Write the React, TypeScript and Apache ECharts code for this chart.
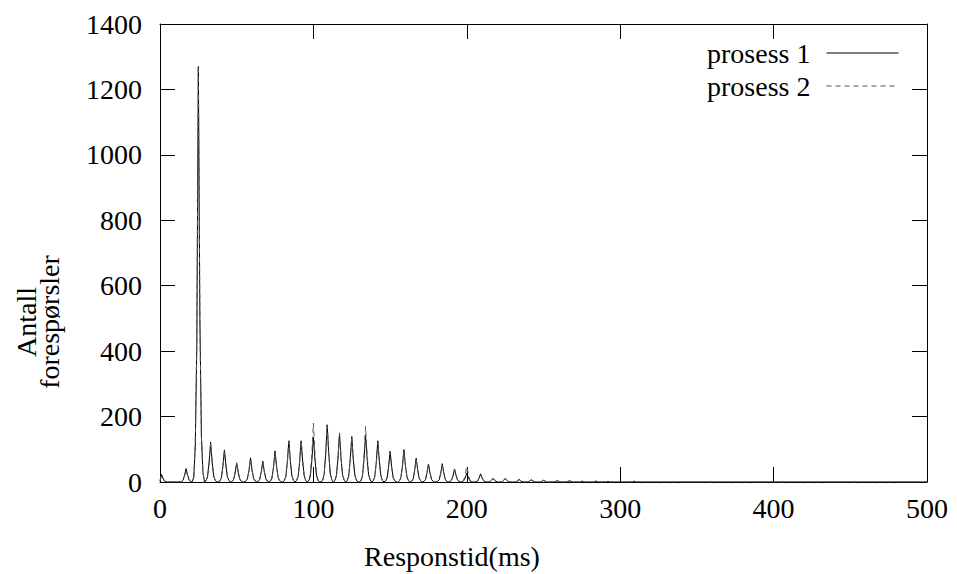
import React, { useEffect, useRef } from "react";
import * as echarts from "echarts";

const seriesNames = ["prosess 1", "prosess 2"];
const xTicks = { min: 0, max: 500, interval: 100 };
const yTicks = { min: 0, max: 1400, interval: 200 };
const xTitle = "Responstid(ms)";
const yTitle = "Antall\nforespørsler";

const prosess1: [number, number][] = [
  [0, 3], [1, 23], [2, 11], [3, 3], [4, 1], [5, 0],
  [13, 0], [14, 1], [15, 5], [16, 20], [17, 41], [18, 21], [19, 6], [20, 2], [21, 0],
  [22, 15], [23, 110], [24, 420], [25, 1270], [26, 500], [27, 140], [28, 30], [29, 0],
  [30, 4], [31, 16], [32, 59], [33, 122], [34, 61], [35, 18], [36, 5], [37, 0],
  [38, 0], [39, 3], [40, 13], [41, 47], [42, 98], [43, 49], [44, 15], [45, 4], [46, 0],
  [47, 2], [48, 8], [49, 28], [50, 58], [51, 29], [52, 9], [53, 2], [54, 0],
  [55, 0], [56, 2], [57, 10], [58, 36], [59, 74], [60, 37], [61, 11], [62, 3], [63, 0],
  [64, 2], [65, 8], [66, 31], [67, 64], [68, 32], [69, 10], [70, 3], [71, 0],
  [72, 3], [73, 12], [74, 46], [75, 95], [76, 48], [77, 14], [78, 4], [79, 0],
  [80, 0], [81, 4], [82, 16], [83, 60], [84, 126], [85, 63], [86, 19], [87, 5], [88, 0],
  [89, 4], [90, 16], [91, 60], [92, 126], [93, 63], [94, 19], [95, 5], [96, 0],
  [97, 4], [98, 18], [99, 66], [100, 137], [101, 69], [102, 21], [103, 5], [104, 0],
  [105, 0], [106, 5], [107, 23], [108, 84], [109, 175], [110, 88], [111, 26], [112, 7], [113, 0],
  [114, 4], [115, 19], [116, 71], [117, 148], [118, 74], [119, 22], [120, 6], [121, 0],
  [122, 4], [123, 18], [124, 67], [125, 139], [126, 70], [127, 21], [128, 6], [129, 0],
  [130, 0], [131, 4], [132, 19], [133, 69], [134, 144], [135, 72], [136, 22], [137, 6], [138, 0],
  [139, 4], [140, 16], [141, 60], [142, 126], [143, 63], [144, 19], [145, 5], [146, 0],
  [147, 3], [148, 12], [149, 45], [150, 94], [151, 47], [152, 14], [153, 4], [154, 0],
  [155, 0], [156, 3], [157, 13], [158, 48], [159, 99], [160, 50], [161, 15], [162, 4], [163, 0],
  [164, 2], [165, 9], [166, 35], [167, 73], [168, 37], [169, 11], [170, 3], [171, 0],
  [172, 2], [173, 7], [174, 26], [175, 55], [176, 28], [177, 8], [178, 2], [179, 0],
  [180, 0], [181, 2], [182, 7], [183, 27], [184, 56], [185, 28], [186, 8], [187, 2], [188, 0],
  [189, 1], [190, 5], [191, 19], [192, 40], [193, 20], [194, 6], [195, 2], [196, 0],
  [197, 1], [198, 4], [199, 13], [200, 27], [201, 14], [202, 4], [203, 1], [204, 0],
  [205, 0], [206, 1], [207, 3], [208, 12], [209, 25], [210, 13], [211, 4], [212, 1], [213, 0],
  [215, 0], [216, 5], [217, 11], [218, 6], [219, 2], [220, 0],
  [223, 0], [224, 5], [225, 11], [226, 6], [227, 2], [228, 0],
  [232, 0], [233, 4], [234, 8], [235, 4], [236, 1], [237, 0],
  [240, 0], [241, 3], [242, 7], [243, 4], [244, 1], [245, 0],
  [248, 0], [249, 2], [250, 5], [251, 3], [252, 0],
  [257, 0], [258, 2], [259, 4], [260, 2], [261, 0],
  [265, 0], [266, 2], [267, 4], [268, 2], [269, 0],
  [274, 0], [275, 3], [276, 1], [277, 0],
  [283, 0], [284, 3], [285, 1], [286, 0],
  [291, 0], [292, 2], [293, 0],
  [299, 0], [300, 2], [301, 0],
  [308, 0], [309, 3], [310, 0],
  [500, 0],
];

const prosess2: [number, number][] = [
  [0, 3], [1, 22], [2, 11], [3, 3], [4, 1], [5, 0],
  [13, 0], [14, 1], [15, 5], [16, 18], [17, 38], [18, 19], [19, 6], [20, 2], [21, 0],
  [22, 14], [23, 115], [24, 430], [25, 1272], [26, 490], [27, 135], [28, 28], [29, 0],
  [30, 4], [31, 15], [32, 57], [33, 118], [34, 59], [35, 18], [36, 5], [37, 0],
  [38, 0], [39, 3], [40, 12], [41, 46], [42, 95], [43, 48], [44, 14], [45, 4], [46, 0],
  [47, 2], [48, 8], [49, 29], [50, 60], [51, 30], [52, 9], [53, 2], [54, 0],
  [55, 0], [56, 2], [57, 9], [58, 34], [59, 70], [60, 35], [61, 11], [62, 3], [63, 0],
  [64, 2], [65, 8], [66, 30], [67, 62], [68, 31], [69, 9], [70, 2], [71, 0],
  [72, 3], [73, 12], [74, 44], [75, 92], [76, 46], [77, 14], [78, 4], [79, 0],
  [80, 0], [81, 4], [82, 16], [83, 60], [84, 124], [85, 62], [86, 19], [87, 5], [88, 0],
  [89, 4], [90, 17], [91, 61], [92, 128], [93, 64], [94, 19], [95, 5], [96, 0],
  [97, 5], [98, 23], [99, 86], [100, 180], [101, 90], [102, 27], [103, 7], [104, 0],
  [105, 0], [106, 5], [107, 22], [108, 83], [109, 172], [110, 86], [111, 26], [112, 7], [113, 0],
  [114, 5], [115, 20], [116, 72], [117, 150], [118, 75], [119, 23], [120, 6], [121, 0],
  [122, 4], [123, 18], [124, 67], [125, 140], [126, 70], [127, 21], [128, 6], [129, 0],
  [130, 0], [131, 5], [132, 22], [133, 82], [134, 170], [135, 85], [136, 26], [137, 7], [138, 0],
  [139, 4], [140, 16], [141, 59], [142, 122], [143, 61], [144, 18], [145, 5], [146, 0],
  [147, 3], [148, 12], [149, 44], [150, 92], [151, 46], [152, 14], [153, 4], [154, 0],
  [155, 0], [156, 3], [157, 12], [158, 46], [159, 95], [160, 48], [161, 14], [162, 4], [163, 0],
  [164, 2], [165, 9], [166, 34], [167, 70], [168, 35], [169, 11], [170, 3], [171, 0],
  [172, 2], [173, 7], [174, 27], [175, 56], [176, 28], [177, 8], [178, 2], [179, 0],
  [180, 0], [181, 2], [182, 7], [183, 25], [184, 52], [185, 26], [186, 8], [187, 2], [188, 0],
  [189, 1], [190, 5], [191, 18], [192, 38], [193, 19], [194, 6], [195, 2], [196, 0],
  [197, 1], [198, 6], [199, 23], [200, 48], [201, 24], [202, 7], [203, 2], [204, 0],
  [205, 0], [206, 1], [207, 3], [208, 11], [209, 22], [210, 11], [211, 3], [212, 1], [213, 0],
  [215, 0], [216, 6], [217, 12], [218, 6], [219, 2], [220, 0],
  [223, 0], [224, 5], [225, 10], [226, 5], [227, 2], [228, 0],
  [232, 0], [233, 3], [234, 7], [235, 4], [236, 1], [237, 0],
  [240, 0], [241, 3], [242, 6], [243, 3], [244, 1], [245, 0],
  [248, 0], [249, 2], [250, 5], [251, 3], [252, 0],
  [257, 0], [258, 2], [259, 4], [260, 2], [261, 0],
  [265, 0], [266, 1], [267, 3], [268, 1], [269, 0],
  [274, 0], [275, 3], [276, 1], [277, 0],
  [283, 0], [284, 2], [285, 1], [286, 0],
  [291, 0], [292, 2], [293, 0],
  [299, 0], [300, 2], [301, 0],
  [308, 0], [309, 2], [310, 0],
  [500, 0],
];

const FONT = "'Liberation Serif', 'DejaVu Serif', serif";

export default function App() {
  const ref = useRef<HTMLDivElement>(null);
  useEffect(() => {
    if (!ref.current) return;
    const chart = echarts.init(ref.current, null, { renderer: "svg" });
    const axisLine = { show: true, onZero: false, lineStyle: { color: "#000", width: 1 } };
    const axisTick = { show: true, inside: true, length: 15, lineStyle: { color: "#000", width: 1 } };
    const plain = (v: number) => String(v);
    chart.setOption({
      animation: false,
      backgroundColor: "#fff",
      grid: { left: 160, right: 30, top: 24, bottom: 92, containLabel: false },
      xAxis: [
        {
          type: "value", position: "bottom", ...xTicks,
          axisLine, axisTick, splitLine: { show: false },
          axisLabel: { color: "#000", fontFamily: FONT, fontSize: 28, margin: 12, formatter: plain },
        },
        {
          type: "value", position: "top", ...xTicks,
          axisLine, axisTick, splitLine: { show: false }, axisLabel: { show: false },
        },
      ],
      yAxis: [
        {
          type: "value", position: "left", ...yTicks,
          axisLine, axisTick, splitLine: { show: false },
          axisLabel: { color: "#000", fontFamily: FONT, fontSize: 28, margin: 18, formatter: plain },
        },
        {
          type: "value", position: "right", ...yTicks,
          axisLine, axisTick, splitLine: { show: false }, axisLabel: { show: false },
        },
      ],
      legend: {
        orient: "vertical",
        right: 53,
        top: 34,
        align: "right",
        itemWidth: 72,
        itemHeight: 10,
        itemGap: 5,
        data: seriesNames,
        itemStyle: { opacity: 0 },
        lineStyle: { width: 1 },
        textStyle: { color: "#000", fontFamily: FONT, fontSize: 28, padding: [0, 11, 0, 0] },
      },
      graphic: [
        {
          type: "text", x: 452, y: 556,
          style: { text: xTitle, font: `28px ${FONT}`, fill: "#000", align: "center", verticalAlign: "middle" },
        },
        {
          type: "text", x: 38, y: 322, rotation: Math.PI / 2,
          style: { text: yTitle, font: `28px ${FONT}`, fill: "#000", align: "center", verticalAlign: "middle", lineHeight: 23 },
        },
      ],
      series: [
        {
          name: seriesNames[0], type: "line", data: prosess1, symbol: "none",
          lineStyle: { color: "#000", width: 1 }, itemStyle: { color: "#000" },
        },
        {
          name: seriesNames[1], type: "line", data: prosess2, symbol: "none",
          lineStyle: { color: "#555", width: 1, type: [5, 4] }, itemStyle: { color: "#555" },
        },
      ],
    });
    return () => chart.dispose();
  }, []);
  return <div ref={ref} style={{ position: "fixed", left: 0, top: 0, width: 957, height: 574 }} />;
}
